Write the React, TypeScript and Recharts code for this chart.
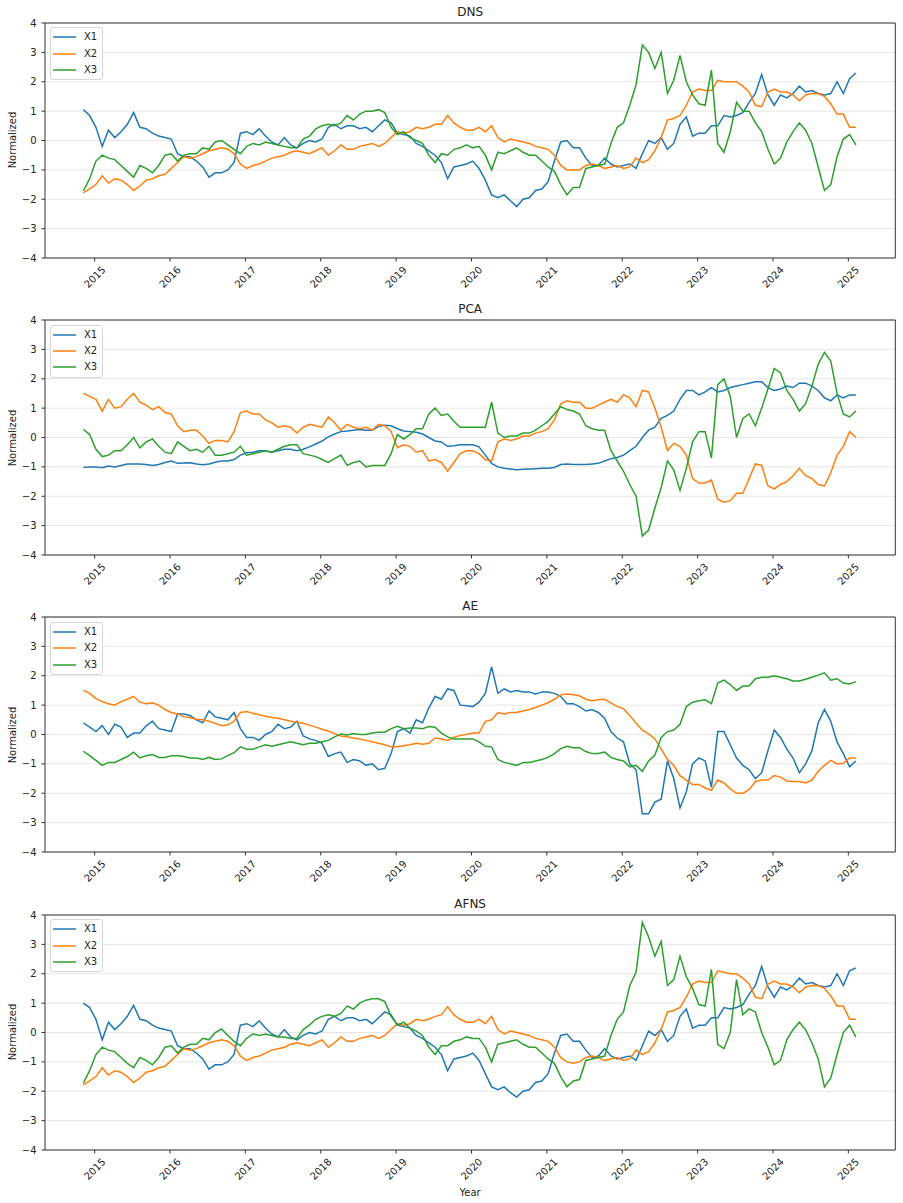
import {
  CartesianGrid,
  Legend,
  Line,
  LineChart,
  ReferenceArea,
  XAxis,
  YAxis,
} from "recharts";

const FONT = '"DejaVu Sans", Verdana, sans-serif';

// Monthly samples from Nov 2014 to Feb 2025 (decimal years)
const START_YEAR = 2014.85;
const dates = Array.from({ length: 124 }, (_, i) => +(START_YEAR + i / 12).toFixed(4));

const yearTicks = [2015, 2016, 2017, 2018, 2019, 2020, 2021, 2022, 2023, 2024, 2025];
const valueTicks = [-4, -3, -2, -1, 0, 1, 2, 3, 4];
const seriesNames = ["X1", "X2", "X3"];
const seriesColors = ["#1f77b4", "#ff7f0e", "#2ca02c"];
const panelTitles = ["DNS", "PCA", "AE", "AFNS"];

const dnsX1 = [
  1.05, 0.85, 0.45, -0.2, 0.35, 0.1, 0.3, 0.55, 0.95, 0.45,
  0.4, 0.25, 0.15, 0.1, 0.05, -0.45, -0.55, -0.55, -0.7, -0.9,
  -1.25, -1.1, -1.1, -1.0, -0.75, 0.25, 0.3, 0.2, 0.4, 0.15,
  -0.05, -0.15, 0.1, -0.15, -0.25, -0.1, 0.0, -0.05, 0.05, 0.45,
  0.55, 0.4, 0.5, 0.5, 0.4, 0.45, 0.3, 0.5, 0.7, 0.6,
  0.25, 0.2, 0.15, -0.1, -0.2, -0.35, -0.5, -0.75, -1.3, -0.9,
  -0.85, -0.8, -0.7, -0.95, -1.35, -1.85, -1.95, -1.85, -2.05, -2.25,
  -2.0, -1.95, -1.7, -1.65, -1.4, -0.7, -0.05, 0.0, -0.25, -0.25,
  -0.6, -0.85, -0.85, -0.6, -0.8, -0.9, -0.85, -0.8, -0.95, -0.45,
  0.0, -0.1, 0.1, -0.3, -0.1, 0.55, 0.8, 0.15, 0.25, 0.25,
  0.5, 0.5, 0.85, 0.8, 0.85, 0.95, 1.3, 1.6, 2.25, 1.55,
  1.2, 1.55, 1.45, 1.6, 1.85, 1.65, 1.7, 1.6, 1.55, 1.6,
  2.0, 1.6, 2.1, 2.3,
];
const dnsX2 = [
  -1.78, -1.65, -1.5, -1.2, -1.45, -1.3, -1.35, -1.5, -1.7, -1.55,
  -1.35, -1.3, -1.2, -1.15, -0.95, -0.75, -0.55, -0.6, -0.55, -0.45,
  -0.35, -0.3, -0.25, -0.3, -0.45, -0.8, -0.95, -0.85, -0.8, -0.7,
  -0.6, -0.55, -0.5, -0.4, -0.35, -0.4, -0.45, -0.35, -0.25, -0.5,
  -0.35, -0.15, -0.3, -0.3, -0.2, -0.15, -0.1, -0.2, -0.1, 0.1,
  0.3, 0.25, 0.3, 0.45, 0.4, 0.45, 0.55, 0.55, 0.85, 0.6,
  0.45, 0.35, 0.35, 0.45, 0.3, 0.5, 0.1, -0.05, 0.05, 0.0,
  -0.05, -0.1, -0.2, -0.25, -0.3, -0.5, -0.85, -1.0, -1.0, -1.0,
  -0.85, -0.8, -0.85, -0.95, -0.9, -0.85, -0.95, -0.9, -0.6, -0.75,
  -0.65, -0.35, 0.1, 0.7, 0.75, 0.85, 1.2, 1.65, 1.75, 1.7,
  1.7, 2.05, 2.0, 2.0, 2.0, 1.85, 1.65, 1.2, 1.15, 1.65,
  1.75, 1.65, 1.65, 1.55, 1.35, 1.55, 1.6, 1.6, 1.5, 1.25,
  0.9, 0.9, 0.45, 0.45,
];
const dnsX3 = [
  -1.72, -1.3, -0.7, -0.5, -0.6, -0.65, -0.85, -1.05, -1.25, -0.85,
  -0.95, -1.1, -0.85, -0.5, -0.45, -0.7, -0.5, -0.45, -0.45, -0.25,
  -0.3, -0.05, 0.0, -0.15, -0.3, -0.45, -0.2, -0.1, -0.15, -0.05,
  -0.1, -0.15, -0.2, -0.25, -0.25, 0.05, 0.15, 0.4, 0.5, 0.55,
  0.5, 0.6, 0.85, 0.7, 0.9, 1.0, 1.0, 1.05, 0.95, 0.45,
  0.2, 0.3, 0.1, 0.0, -0.1, -0.5, -0.75, -0.45, -0.5, -0.3,
  -0.25, -0.15, -0.25, -0.2, -0.5, -1.0, -0.4, -0.45, -0.35, -0.25,
  -0.4, -0.5, -0.5, -0.7, -0.9, -1.05, -1.5, -1.85, -1.6, -1.6,
  -0.95, -0.9, -0.85, -0.8, -0.1, 0.45, 0.6, 1.2, 1.9, 3.25,
  3.0, 2.45, 3.0, 1.6, 2.05, 2.9, 2.0, 1.55, 1.25, 1.2,
  2.4, -0.1, -0.4, 0.3, 1.3, 1.0, 1.0, 0.6, 0.3, -0.3,
  -0.8, -0.6, -0.05, 0.3, 0.6, 0.35, -0.1, -0.9, -1.7, -1.5,
  -0.55, 0.05, 0.2, -0.15,
];

const pcaX1 = [
  -1.02, -1.0, -1.0, -1.03, -0.97, -1.0, -0.95, -0.9, -0.9, -0.9,
  -0.92, -0.95, -0.92, -0.85, -0.8, -0.88, -0.87, -0.86, -0.9, -0.93,
  -0.9, -0.84, -0.8, -0.8, -0.75, -0.6, -0.52, -0.5, -0.45, -0.45,
  -0.5, -0.45, -0.4, -0.4, -0.45, -0.4, -0.32, -0.22, -0.12, 0.02,
  0.12, 0.2, 0.22, 0.25, 0.27, 0.25, 0.25, 0.38, 0.42, 0.4,
  0.3, 0.22, 0.2, 0.18, 0.12, 0.0, -0.12, -0.15, -0.3, -0.28,
  -0.25, -0.25, -0.25, -0.32, -0.6, -0.88, -1.0, -1.05, -1.07, -1.1,
  -1.08, -1.07, -1.06, -1.05, -1.05, -1.02, -0.92, -0.9, -0.92, -0.92,
  -0.92, -0.9, -0.88, -0.8, -0.72, -0.68, -0.6, -0.45, -0.3, 0.0,
  0.25, 0.35, 0.65, 0.75, 0.9, 1.3, 1.6, 1.6, 1.45, 1.55,
  1.7, 1.55, 1.6, 1.7, 1.75, 1.8, 1.85, 1.9, 1.9, 1.7,
  1.6, 1.65, 1.75, 1.7, 1.85, 1.85, 1.75, 1.6, 1.35, 1.25,
  1.45, 1.35, 1.45, 1.45,
];
const pcaX2 = [
  1.5, 1.4, 1.3, 0.9, 1.3, 1.0, 1.05, 1.3, 1.5, 1.2,
  1.1, 0.95, 1.05, 0.85, 0.8, 0.4, 0.2, 0.25, 0.25, 0.05,
  -0.2, -0.1, -0.1, -0.15, 0.2, 0.85, 0.9, 0.8, 0.8, 0.6,
  0.5, 0.35, 0.4, 0.35, 0.15, 0.35, 0.45, 0.4, 0.35, 0.7,
  0.5, 0.25, 0.45, 0.35, 0.3, 0.35, 0.25, 0.45, 0.4, 0.2,
  -0.35, -0.25, -0.3, -0.5, -0.45, -0.8, -0.75, -0.85, -1.15, -0.85,
  -0.55, -0.45, -0.45, -0.55, -0.75, -0.8, -0.15, -0.05, -0.1, -0.05,
  0.05, 0.05, 0.15, 0.2, 0.3, 0.6, 1.15, 1.25, 1.2, 1.2,
  1.0, 1.0, 1.1, 1.2, 1.3, 1.2, 1.45, 1.35, 1.05, 1.6,
  1.55, 1.0, 0.35, -0.45, -0.2, -0.3, -0.6, -1.4, -1.55, -1.55,
  -1.45, -2.1, -2.2, -2.15, -1.9, -1.9, -1.4, -0.9, -0.95, -1.65,
  -1.75, -1.6, -1.5, -1.3, -1.05, -1.3, -1.4, -1.6, -1.65, -1.2,
  -0.6, -0.3, 0.2, 0.0,
];
const pcaX3 = [
  0.28, 0.1, -0.4, -0.65, -0.6, -0.45, -0.45, -0.25, 0.0, -0.35,
  -0.15, -0.05, -0.3, -0.5, -0.55, -0.15, -0.3, -0.45, -0.4, -0.5,
  -0.3, -0.6, -0.6, -0.55, -0.5, -0.3, -0.6, -0.55, -0.5, -0.45,
  -0.5, -0.4, -0.3, -0.25, -0.25, -0.55, -0.6, -0.65, -0.75, -0.85,
  -0.72, -0.6, -0.95, -0.85, -0.8, -1.0, -0.95, -0.95, -0.95, -0.55,
  0.1, -0.05, 0.1, 0.3, 0.3, 0.8, 1.0, 0.75, 0.8, 0.55,
  0.35, 0.35, 0.35, 0.35, 0.35, 1.2, 0.15, 0.0, 0.05, 0.05,
  0.15, 0.15, 0.25, 0.4, 0.55, 0.8, 1.05, 0.95, 0.9, 0.8,
  0.4, 0.3, 0.25, 0.25, -0.45, -0.8, -1.15, -1.6, -2.0, -3.35,
  -3.15, -2.4, -1.7, -0.8, -1.1, -1.8, -1.05, -0.15, 0.2, 0.2,
  -0.7, 1.8, 2.0, 1.4, 0.0, 0.65, 0.8, 0.4, 1.0, 1.65,
  2.35, 2.2, 1.6, 1.3, 0.9, 1.15, 1.75, 2.5, 2.9, 2.6,
  1.5, 0.8, 0.7, 0.9,
];

const aeX1 = [
  0.4, 0.25, 0.1, 0.3, 0.0, 0.35, 0.25, -0.1, 0.05, 0.05,
  0.3, 0.45, 0.2, 0.15, 0.1, 0.7, 0.7, 0.65, 0.5, 0.4,
  0.8, 0.6, 0.55, 0.5, 0.75, 0.2, -0.1, -0.1, -0.2, 0.0,
  0.1, 0.35, 0.2, 0.25, 0.45, -0.05, -0.15, -0.2, -0.3, -0.75,
  -0.65, -0.6, -0.95, -0.85, -0.9, -1.05, -1.0, -1.2, -1.15, -0.65,
  0.1, 0.2, 0.05, 0.5, 0.4, 0.9, 1.3, 1.2, 1.55, 1.5,
  1.0, 0.98, 0.95, 1.1, 1.4, 2.3, 1.4, 1.55, 1.45, 1.5,
  1.45, 1.45, 1.38, 1.45, 1.45, 1.4, 1.3, 1.05, 1.05, 0.95,
  0.8, 0.85, 0.75, 0.55, 0.1, -0.12, -0.25, -1.0, -1.2, -2.7,
  -2.7, -2.3, -2.2, -0.9, -1.5, -2.5, -1.95, -1.0, -0.8, -0.9,
  -1.8, 0.1, 0.1, -0.35, -0.8, -1.05, -1.2, -1.5, -1.3, -0.55,
  0.15, -0.1, -0.5, -0.8, -1.3, -1.0, -0.55, 0.4, 0.85, 0.45,
  -0.25, -0.65, -1.1, -0.9,
];
const aeX2 = [
  1.5, 1.4, 1.22, 1.12, 1.05, 1.0, 1.12, 1.2, 1.3, 1.1,
  1.05, 1.08, 1.0, 0.85, 0.75, 0.7, 0.6, 0.58, 0.52, 0.5,
  0.45, 0.38, 0.3, 0.33, 0.45, 0.75, 0.78, 0.72, 0.67, 0.62,
  0.58, 0.55, 0.5, 0.45, 0.42, 0.38, 0.32, 0.25, 0.18, 0.12,
  0.03, -0.05, -0.08, -0.12, -0.15, -0.2, -0.25, -0.3, -0.35, -0.42,
  -0.42, -0.38, -0.35, -0.3, -0.33, -0.3, -0.12, -0.15, -0.2, -0.1,
  -0.03, 0.0, 0.05, 0.05, 0.45, 0.5, 0.75, 0.7, 0.75, 0.75,
  0.8, 0.85, 0.92, 1.0, 1.08, 1.2, 1.35, 1.38, 1.35, 1.32,
  1.2, 1.15, 1.18, 1.2, 1.08, 0.95, 0.88, 0.65, 0.38, 0.15,
  0.02, -0.15, -0.5, -0.85, -1.05, -1.4, -1.55, -1.7, -1.7, -1.82,
  -1.9, -1.55, -1.65, -1.85, -2.0, -2.0, -1.88, -1.6, -1.55, -1.55,
  -1.4, -1.45, -1.58, -1.6, -1.6, -1.65, -1.55, -1.25, -1.05, -0.88,
  -1.0, -0.98, -0.8, -0.8,
];
const aeX3 = [
  -0.57, -0.72, -0.88, -1.05, -0.95, -0.95, -0.85, -0.75, -0.6, -0.8,
  -0.72, -0.68, -0.78, -0.78, -0.72, -0.72, -0.75, -0.8, -0.8, -0.85,
  -0.78, -0.85, -0.83, -0.72, -0.62, -0.42, -0.5, -0.5, -0.42, -0.35,
  -0.4, -0.35, -0.3, -0.25, -0.3, -0.35, -0.3, -0.3, -0.25, -0.2,
  -0.08, 0.02, -0.02, 0.03, 0.0, 0.0, 0.05, 0.08, 0.08, 0.2,
  0.28, 0.2, 0.22, 0.22, 0.2, 0.27, 0.25, 0.05, -0.08, -0.15,
  -0.15, -0.15, -0.15, -0.25, -0.4, -0.42, -0.85, -0.95, -1.0, -1.05,
  -0.95, -0.95, -0.9, -0.85, -0.78, -0.65, -0.48, -0.4, -0.45, -0.45,
  -0.58, -0.65, -0.65, -0.6, -0.78, -0.85, -0.9, -1.1, -1.05, -1.25,
  -0.9, -0.7, -0.1, 0.1, 0.15, 0.35, 0.95, 1.1, 1.15, 1.18,
  1.05, 1.75, 1.85, 1.7, 1.5, 1.65, 1.65, 1.9, 1.95, 1.95,
  2.0, 1.95, 1.9, 1.82, 1.82, 1.88, 1.95, 2.02, 2.1, 1.85,
  1.9, 1.75, 1.72, 1.8,
];

const afnsX1 = [
  1.0, 0.85, 0.45, -0.25, 0.35, 0.1, 0.3, 0.55, 0.92, 0.45,
  0.4, 0.25, 0.15, 0.1, 0.05, -0.45, -0.55, -0.55, -0.7, -0.9,
  -1.25, -1.1, -1.1, -1.0, -0.75, 0.25, 0.3, 0.2, 0.4, 0.15,
  -0.05, -0.15, 0.1, -0.15, -0.25, -0.1, 0.0, -0.05, 0.05, 0.45,
  0.55, 0.4, 0.5, 0.5, 0.4, 0.45, 0.3, 0.5, 0.7, 0.6,
  0.25, 0.2, 0.15, -0.1, -0.2, -0.35, -0.5, -0.75, -1.3, -0.9,
  -0.85, -0.8, -0.7, -0.95, -1.4, -1.85, -1.95, -1.85, -2.05, -2.2,
  -2.0, -1.95, -1.7, -1.65, -1.4, -0.7, -0.1, -0.05, -0.3, -0.3,
  -0.6, -0.85, -0.8, -0.55, -0.8, -0.9, -0.85, -0.8, -0.95, -0.45,
  0.05, -0.1, 0.1, -0.3, -0.1, 0.55, 0.8, 0.15, 0.25, 0.25,
  0.5, 0.5, 0.85, 0.8, 0.85, 0.95, 1.3, 1.6, 2.25, 1.55,
  1.2, 1.55, 1.45, 1.6, 1.85, 1.65, 1.7, 1.6, 1.55, 1.6,
  2.0, 1.6, 2.1, 2.2,
];
const afnsX2 = [
  -1.78, -1.65, -1.5, -1.2, -1.45, -1.3, -1.35, -1.5, -1.7, -1.55,
  -1.35, -1.3, -1.2, -1.15, -0.95, -0.75, -0.55, -0.6, -0.55, -0.45,
  -0.35, -0.3, -0.25, -0.3, -0.45, -0.8, -0.95, -0.85, -0.8, -0.7,
  -0.6, -0.55, -0.5, -0.4, -0.35, -0.4, -0.45, -0.35, -0.25, -0.5,
  -0.35, -0.15, -0.3, -0.3, -0.2, -0.15, -0.1, -0.2, -0.1, 0.1,
  0.3, 0.25, 0.3, 0.45, 0.4, 0.45, 0.55, 0.6, 0.88, 0.6,
  0.45, 0.35, 0.35, 0.45, 0.3, 0.55, 0.1, -0.05, 0.05, 0.0,
  -0.05, -0.1, -0.2, -0.25, -0.3, -0.5, -0.85, -1.0, -1.05, -1.0,
  -0.85, -0.8, -0.85, -0.95, -0.9, -0.85, -0.95, -0.9, -0.6, -0.75,
  -0.65, -0.35, 0.1, 0.7, 0.75, 0.85, 1.2, 1.65, 1.75, 1.7,
  1.7, 2.1, 2.05, 2.0, 2.0, 1.85, 1.65, 1.2, 1.15, 1.65,
  1.75, 1.65, 1.65, 1.55, 1.35, 1.55, 1.6, 1.6, 1.5, 1.25,
  0.9, 0.9, 0.45, 0.45,
];
const afnsX3 = [
  -1.72, -1.3, -0.75, -0.5, -0.6, -0.65, -0.85, -1.05, -1.2, -0.85,
  -0.95, -1.1, -0.85, -0.5, -0.45, -0.7, -0.5, -0.4, -0.4, -0.2,
  -0.25, 0.0, 0.12, -0.1, -0.3, -0.45, -0.2, -0.05, -0.1, -0.05,
  -0.1, -0.15, -0.15, -0.2, -0.2, 0.1, 0.25, 0.45, 0.55, 0.6,
  0.55, 0.65, 0.9, 0.8, 1.0, 1.1, 1.15, 1.15, 1.05, 0.55,
  0.25, 0.35, 0.15, 0.05, -0.1, -0.5, -0.75, -0.45, -0.45, -0.3,
  -0.25, -0.15, -0.2, -0.2, -0.5, -1.0, -0.4, -0.35, -0.3, -0.25,
  -0.4, -0.5, -0.5, -0.7, -0.9, -1.05, -1.5, -1.85, -1.65, -1.6,
  -0.95, -0.9, -0.85, -0.8, -0.1, 0.45, 0.7, 1.6, 2.05, 3.75,
  3.25, 2.6, 3.1, 1.6, 1.8, 2.6, 1.9, 1.5, 0.95, 0.9,
  2.15, -0.4, -0.55, 0.0, 1.8, 0.6, 0.8, 0.7, 0.0, -0.5,
  -1.1, -0.95, -0.25, 0.1, 0.35, 0.1, -0.35, -0.9, -1.85, -1.55,
  -0.75, 0.0, 0.25, -0.15,
];

const panelSeries = [
  [dnsX1, dnsX2, dnsX3],
  [pcaX1, pcaX2, pcaX3],
  [aeX1, aeX2, aeX3],
  [afnsX1, afnsX2, afnsX3],
];

// layout of each subplot
const CHART_W = 903;
const PLOT_LEFT = 45;
const PLOT_RIGHT = 895.3;
const PLOT_H = 235;
const FIRST_TOP = 22.7;
const PANEL_STEP = 297.35;
const TOP_PAD = 30;
const AXIS_H = 40;
const X_DOMAIN: [number, number] = [2014.341, 2025.623];

const fmtValue = (v: number) => (v < 0 ? `\u2212${-v}` : `${v}`);

function YearTick(props: any) {
  const { x, y, payload } = props;
  const cy = y + 13.5;
  return (
    <text
      x={x}
      y={cy}
      transform={`rotate(-45 ${x} ${cy})`}
      textAnchor="middle"
      dominantBaseline="central"
      fontSize={10}
      fontFamily={FONT}
      fill="#222"
    >
      {payload.value}
    </text>
  );
}

function LegendBox() {
  return (
    <div
      style={{
        border: "1px solid #d6d6d6",
        borderRadius: 3,
        background: "rgba(255,255,255,0.85)",
        padding: "1px 5px 1px 2px",
        fontFamily: FONT,
        fontSize: 10,
        color: "#222",
      }}
    >
      {seriesNames.map((name, i) => (
        <div key={name} style={{ display: "flex", alignItems: "center", height: 16.3 }}>
          <svg width={23} height={4} style={{ marginRight: 8, display: "block" }}>
            <line x1={0} y1={2} x2={23} y2={2} stroke={seriesColors[i]} strokeWidth={1.5} />
          </svg>
          <span style={{ lineHeight: 1 }}>{name}</span>
        </div>
      ))}
    </div>
  );
}

function Panel({ index }: { index: number }) {
  const plotTop = FIRST_TOP + index * PANEL_STEP;
  const [a, b, c] = panelSeries[index];
  const rows = dates.map((t, i) => ({ t, X1: a[i], X2: b[i], X3: c[i] }));

  return (
    <div
      style={{
        position: "absolute",
        left: 0,
        top: plotTop - TOP_PAD,
        width: CHART_W,
        height: TOP_PAD + PLOT_H + AXIS_H,
      }}
    >
      <div
        style={{
          position: "absolute",
          left: (PLOT_LEFT + PLOT_RIGHT) / 2,
          top: TOP_PAD - 11,
          transform: "translate(-50%, -50%)",
          fontFamily: FONT,
          fontSize: 12,
          color: "#222",
          whiteSpace: "nowrap",
        }}
      >
        {panelTitles[index]}
      </div>
      <div
        style={{
          position: "absolute",
          left: 11.7,
          top: TOP_PAD + PLOT_H / 2,
          transform: "translate(-50%, -50%) rotate(-90deg)",
          fontFamily: FONT,
          fontSize: 10,
          color: "#222",
          whiteSpace: "nowrap",
        }}
      >
        Normalized
      </div>
      <LineChart
        width={CHART_W}
        height={TOP_PAD + PLOT_H + AXIS_H}
        data={rows}
        margin={{ top: TOP_PAD, right: CHART_W - PLOT_RIGHT, bottom: 0, left: 0 }}
      >
        <CartesianGrid vertical={false} stroke="#e6e6e6" strokeWidth={1} />
        <XAxis
          dataKey="t"
          type="number"
          domain={X_DOMAIN}
          ticks={yearTicks}
          height={AXIS_H}
          tick={<YearTick />}
          tickSize={3.5}
          tickMargin={2}
          tickLine={{ stroke: "#333" }}
          axisLine={false}
          interval={0}
        />
        <YAxis
          type="number"
          domain={[-4, 4]}
          ticks={valueTicks}
          width={PLOT_LEFT}
          tickFormatter={fmtValue}
          tick={{ fontSize: 10, fill: "#222", fontFamily: FONT }}
          tickSize={3.5}
          tickMargin={5}
          tickLine={{ stroke: "#333" }}
          axisLine={false}
          interval={0}
        />
        <ReferenceArea
          x1={X_DOMAIN[0]}
          x2={X_DOMAIN[1]}
          y1={-4}
          y2={4}
          fill="none"
          fillOpacity={0}
          stroke="#333"
          strokeWidth={1}
          ifOverflow="visible"
        />
        {seriesNames.map((name, i) => (
          <Line
            key={name}
            type="linear"
            dataKey={name}
            stroke={seriesColors[i]}
            strokeWidth={1.5}
            dot={false}
            activeDot={false}
            isAnimationActive={false}
          />
        ))}
        <Legend
          layout="vertical"
          align="center"
          verticalAlign="middle"
          wrapperStyle={{ left: PLOT_LEFT + 5, top: TOP_PAD + 4.6, width: "auto", height: "auto" }}
          content={() => <LegendBox />}
        />
      </LineChart>
    </div>
  );
}

export default function App() {
  const lastBottom = FIRST_TOP + 3 * PANEL_STEP + PLOT_H;
  return (
    <div
      style={{
        position: "absolute",
        left: 0,
        top: 0,
        width: CHART_W,
        height: 1203,
        background: "#fff",
      }}
    >
      {panelTitles.map((_, i) => (
        <Panel key={i} index={i} />
      ))}
      <div
        style={{
          position: "absolute",
          left: (PLOT_LEFT + PLOT_RIGHT) / 2,
          top: lastBottom + 42.6,
          transform: "translate(-50%, -50%)",
          fontFamily: FONT,
          fontSize: 10,
          color: "#222",
        }}
      >
        Year
      </div>
    </div>
  );
}
